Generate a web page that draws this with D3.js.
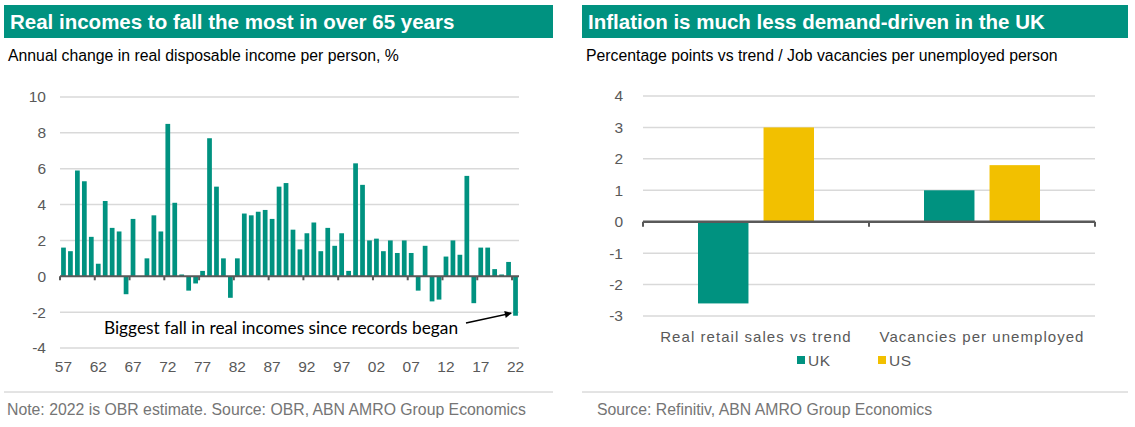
<!DOCTYPE html>
<html>
<head>
<meta charset="utf-8">
<script src="https://cdn.jsdelivr.net/npm/d3@7"></script>
<style>
  body { margin: 0; background: #fff; }
  svg text { font-family: Arial, "Liberation Sans", sans-serif; }
</style>
</head>
<body>
<svg id="chart" width="1135" height="427"></svg>
<script>
// left panel: real disposable income per person, annual % change
const years = d3.range(1957, 2023);
const incomeGrowth = [
  1.6, 1.4, 5.9, 5.3, 2.2, 0.7, 4.2, 2.7, 2.5, -1.0,
  3.2, 0.0, 1.0, 3.4, 2.5, 8.5, 4.1, 0.1, -0.8, -0.4,
  0.3, 7.7, 5.0, 1.0, -1.2, 1.0, 3.5, 3.4, 3.6, 3.7,
  3.2, 5.0, 5.2, 2.6, 1.5, 2.4, 3.0, 1.4, 2.7, 1.7,
  2.4, 0.3, 6.3, 5.1, 2.0, 2.1, 1.4, 2.0, 1.3, 2.0,
  1.3, -0.8, 1.7, -1.4, -1.3, 1.1, 2.0, 1.2, 5.6, -1.5,
  1.6, 1.6, 0.4, 0.1, 0.8, -2.2
];
const incomeTicks = [-4, -2, 0, 2, 4, 6, 8, 10];

// right panel: demand indicators, UK vs US
const categories = ['Real retail sales vs trend', 'Vacancies per unemployed'];
const seriesNames = ['UK', 'US'];
const ukValues = [-2.6, 1.0];
const usValues = [3.0, 1.8];
const demandTicks = [-3, -2, -1, 0, 1, 2, 3, 4];

const teal = '#009280';
const yellow = '#f2c000';
const axisGrey = '#595959';
const gridGrey = '#d9d9d9';
const plainNum = d => String(d);   // hyphen minus, no decimals

const svg = d3.select('#chart');

function panelFrame(x0, x1, title, subtitle, note, noteIndent){
  svg.append('rect')
    .attr('x', x0).attr('y', 5)
    .attr('width', x1 - x0).attr('height', 33)
    .style('fill', teal);
  svg.append('text')
    .attr('x', x0 + 6).attr('y', 29)
    .style('font-size', '20.5px').style('font-weight', 'bold').style('fill', '#fff')
    .text(title);
  svg.append('text')
    .attr('x', x0 + 4).attr('y', 61)
    .style('font-size', '15.8px').style('fill', '#000')
    .text(subtitle);
  svg.append('line')
    .attr('x1', x0).attr('x2', x1).attr('y1', 392).attr('y2', 392)
    .style('stroke', '#c8c8c8');
  svg.append('text')
    .attr('x', x0 + noteIndent).attr('y', 415)
    .style('font-size', '15.8px').style('fill', '#757575')
    .text(note);
}

panelFrame(4, 553, 'Real incomes to fall the most in over 65 years',
  'Annual change in real disposable income per person, %',
  'Note: 2022 is OBR estimate. Source: OBR, ABN AMRO Group Economics', 3);
panelFrame(582, 1128, 'Inflation is much less demand-driven in the UK',
  'Percentage points vs trend / Job vacancies per unemployed person',
  'Source: Refinitiv, ABN AMRO Group Economics', 15);

// ---------- left chart ----------
const xL = d3.scaleBand().domain(years).range([60, 519]).paddingInner(0.32).paddingOuter(0.16);
const yL = d3.scaleLinear().domain([-4, 10]).range([348, 97]);

const gL = svg.append('g');
gL.selectAll('.grid').data(incomeTicks.filter(d => d !== 0)).enter()
  .append('line')
  .attr('x1', 60).attr('x2', 519)
  .attr('y1', d => yL(d)).attr('y2', d => yL(d))
  .style('stroke', gridGrey).style('stroke-width', 1.5);

gL.append('g')
  .attr('transform', 'translate(46,0)')
  .call(d3.axisLeft(yL).tickValues(incomeTicks).tickFormat(plainNum).tickSize(0).tickPadding(0))
  .call(g => g.select('.domain').remove())
  .call(g => g.selectAll('text').style('font-size', '15.5px').style('fill', axisGrey)
    .style('font-family', 'Arial, "Liberation Sans", sans-serif'));

gL.selectAll('.bar').data(incomeGrowth).enter()
  .append('rect')
  .attr('x', (d, i) => xL(years[i]))
  .attr('width', xL.bandwidth())
  .attr('y', d => yL(Math.max(0, d)))
  .attr('height', d => Math.abs(yL(d) - yL(0)))
  .style('fill', teal);

gL.append('line')
  .attr('x1', 60).attr('x2', 519).attr('y1', yL(0)).attr('y2', yL(0))
  .style('stroke', axisGrey).style('stroke-width', 2);

const step = xL.step();
const tickYears = years.filter(y => (y - 1957) % 5 === 0);
gL.selectAll('.tick5').data(tickYears).enter()
  .append('line')
  .attr('x1', d => xL(d) - step * 0.16).attr('x2', d => xL(d) - step * 0.16)
  .attr('y1', yL(0)).attr('y2', yL(0) + 4)
  .style('stroke', axisGrey).style('stroke-width', 2);

gL.selectAll('.xlab').data(tickYears).enter()
  .append('text')
  .attr('x', d => xL(d) + xL.bandwidth() / 2)
  .attr('y', 372)
  .attr('text-anchor', 'middle')
  .style('font-size', '15.5px').style('fill', axisGrey)
  .text(d => String(d).slice(2));

// annotation
svg.append('defs').append('marker')
  .attr('id', 'arrow').attr('viewBox', '0 0 10 10')
  .attr('refX', 9).attr('refY', 5)
  .attr('markerWidth', 10).attr('markerHeight', 7).attr('orient', 'auto')
  .attr('markerUnits', 'userSpaceOnUse')
  .append('path').attr('d', 'M0,0 L10,5 L0,10 Z').style('fill', '#000');

const lastYear = years[years.length - 1];
gL.append('text')
  .attr('x', 281).attr('y', 334)
  .attr('text-anchor', 'middle')
  .style('font-family', 'Lato, "Open Sans", sans-serif')
  .style('font-size', '17.3px').style('fill', '#000')
  .text('Biggest fall in real incomes since records began');
gL.append('line')
  .attr('x1', 466).attr('y1', 323)
  .attr('x2', xL(lastYear) - 2).attr('y2', yL(-2) + 1)
  .style('stroke', '#000').style('stroke-width', 1.5)
  .attr('marker-end', 'url(#arrow)');

// ---------- right chart ----------
const x0 = d3.scaleBand().domain(categories).range([643, 1095]);
const x1 = d3.scaleBand().domain(seriesNames).range([55, 171]).paddingInner(0.23);
const yR = d3.scaleLinear().domain([-3, 4]).range([316, 96]);
const colour = d3.scaleOrdinal().domain(seriesNames).range([teal, yellow]);

const gR = svg.append('g');
gR.selectAll('.grid').data(demandTicks.filter(d => d !== 0)).enter()
  .append('line')
  .attr('x1', 643).attr('x2', 1095)
  .attr('y1', d => yR(d)).attr('y2', d => yR(d))
  .style('stroke', gridGrey).style('stroke-width', 1.5);

gR.append('g')
  .attr('transform', 'translate(623,0)')
  .call(d3.axisLeft(yR).tickValues(demandTicks).tickFormat(plainNum).tickSize(0).tickPadding(0))
  .call(g => g.select('.domain').remove())
  .call(g => g.selectAll('text').style('font-size', '15.5px').style('fill', axisGrey)
    .style('font-family', 'Arial, "Liberation Sans", sans-serif'));

const rows = categories.map((c, i) => ({cat: c, UK: ukValues[i], US: usValues[i]}));
const groups = gR.selectAll('.grp').data(rows).enter()
  .append('g').attr('transform', d => `translate(${x0(d.cat)},0)`);
groups.selectAll('rect').data(d => seriesNames.map(s => ({s, v: d[s]}))).enter()
  .append('rect')
  .attr('x', d => x1(d.s))
  .attr('width', x1.bandwidth())
  .attr('y', d => yR(Math.max(0, d.v)))
  .attr('height', d => Math.abs(yR(d.v) - yR(0)))
  .style('fill', d => colour(d.s));

gR.append('line')
  .attr('x1', 643).attr('x2', 1095).attr('y1', yR(0)).attr('y2', yR(0))
  .style('stroke', axisGrey).style('stroke-width', 2.5);
gR.selectAll('.tickc').data([643, x0(categories[1]), 1095]).enter()
  .append('line')
  .attr('x1', d => d).attr('x2', d => d)
  .attr('y1', yR(0)).attr('y2', yR(0) + 5)
  .style('stroke', axisGrey).style('stroke-width', 2);

gR.selectAll('.clab').data(categories).enter()
  .append('text')
  .attr('x', d => x0(d) + x0.bandwidth() / 2)
  .attr('y', 342)
  .attr('text-anchor', 'middle')
  .style('font-size', '15px').style('fill', axisGrey).style('letter-spacing', '1.05px')
  .text(d => d);

// legend
const legend = gR.selectAll('.leg').data(seriesNames).enter()
  .append('g').attr('transform', (d, i) => `translate(${797 + i * 81},356)`);
legend.append('rect').attr('width', 8).attr('height', 8).style('fill', d => colour(d));
legend.append('text').attr('x', 11).attr('y', 10)
  .style('font-size', '15.5px').style('fill', axisGrey).style('letter-spacing', '0.6px')
  .text(d => d);
</script>
</body>
</html>
